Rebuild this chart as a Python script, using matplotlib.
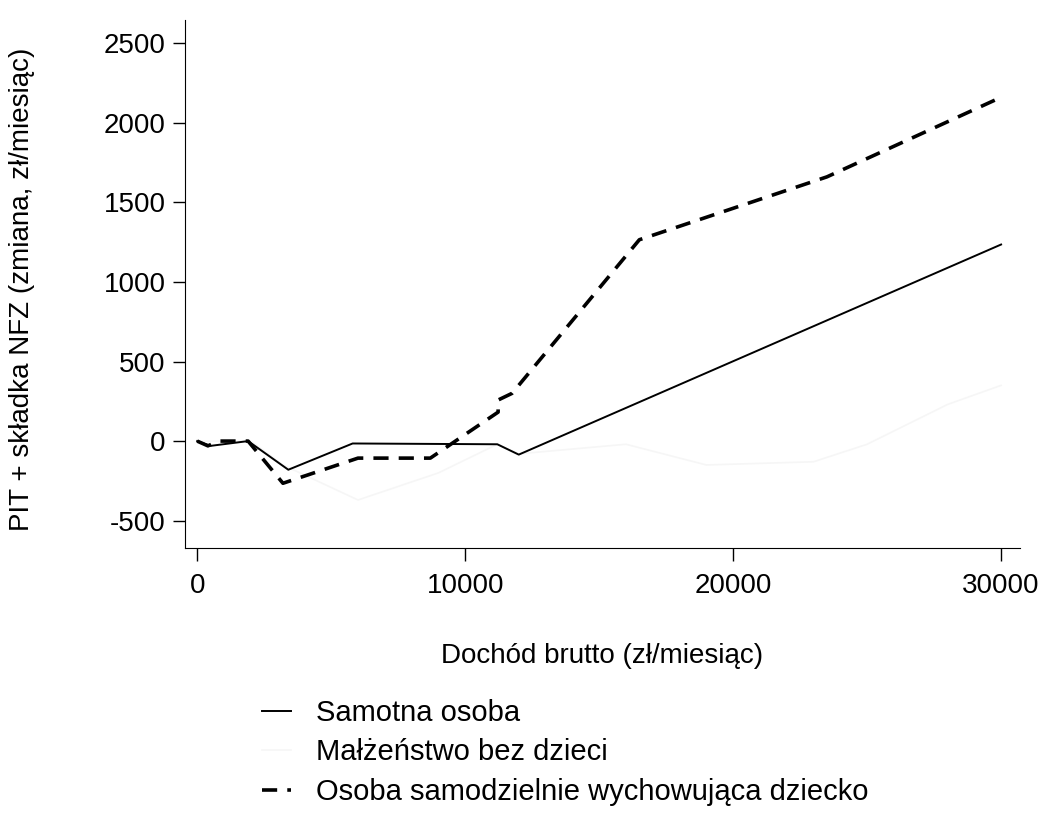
"""Zmiana PIT + składki NFZ wg dochodu brutto."""

import matplotlib.pyplot as plt

plt.rcParams["font.family"] = ["Liberation Sans", "DejaVu Sans"]
plt.rcParams["axes.unicode_minus"] = False

# dochód brutto (zł/miesiąc) i zmiana obciążenia (zł/miesiąc)
single_x = [0, 500, 1900, 3400, 5800, 11200, 12000, 30000]
single_y = [0, -30, 0, -180, -15, -20, -85, 1235]

couple_x = [0, 2000, 3200, 6000, 9000, 11200, 12000, 16000, 19000, 23000, 25000, 28000, 30000]
couple_y = [0, 0, -150, -370, -200, -20, -80, -20, -150, -130, -20, 230, 350]

parent_x = [0, 400, 800, 1900, 3200, 6000, 8700, 11230, 11230, 11750, 16500, 23500, 30000]
parent_y = [0, -30, 0, 0, -265, -107, -107, 182, 258, 300, 1265, 1660, 2160]

labels = [
    "Samotna osoba",
    "Małżeństwo bez dzieci",
    "Osoba samodzielnie wychowująca dziecko",
]

fig = plt.figure(figsize=(10.46, 8.17), dpi=100)
ax = fig.add_axes([0.177, 0.329, 0.798, 0.647])

ax.plot(couple_x, couple_y, color="#f6f6f6", lw=1.2, label=labels[1])
ax.plot(single_x, single_y, color="black", lw=1.4, label=labels[0])
ax.plot(parent_x, parent_y, color="black", lw=2.6, dashes=(4.2, 2.8),
        label=labels[2])

ax.set_xlim(-450, 30700)
ax.set_ylim(-673, 2648)
ax.set_xticks([0, 10000, 20000, 30000])
ax.set_yticks([-500, 0, 500, 1000, 1500, 2000, 2500])
ax.tick_params(labelsize=20, length=9, width=1)
ax.tick_params(axis="x", pad=9)
ax.tick_params(axis="y", pad=5)

for side in ["top", "right"]:
    ax.spines[side].set_visible(False)

ax.set_xlabel("Dochód brutto (zł/miesiąc)", fontsize=20)
ax.set_ylabel("PIT + składka NFZ (zmiana, zł/miesiąc)", fontsize=20)
ax.xaxis.set_label_coords(0.5, -0.18)
ax.yaxis.set_label_coords(-0.18, 0.49)

handles, labs = ax.get_legend_handles_labels()
order = [1, 0, 2]
fig.legend([handles[i] for i in order], [labs[i] for i in order],
           loc="upper left", bbox_to_anchor=(0.239, 0.159), frameon=False,
           fontsize=21, handlelength=1.0, handletextpad=0.85, labelspacing=0.4,
           borderaxespad=0)

fig.savefig("out.png", dpi=100)
